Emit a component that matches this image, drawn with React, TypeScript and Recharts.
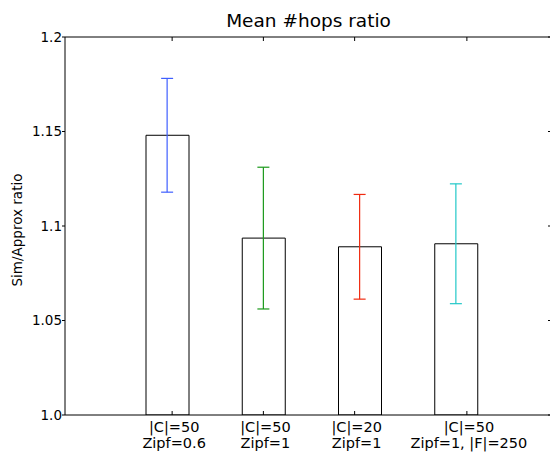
import React from "react"
import { Bar, ComposedChart, ErrorBar, Scatter, XAxis, YAxis } from "recharts"

const categories = ["c50-z0.6", "c50-z1", "c20-z1", "c50-z1-f250"]
const labelTop = ["|C|=50", "|C|=50", "|C|=20", "|C|=50"]
const labelBottom = ["Zipf=0.6", "Zipf=1", "Zipf=1", "Zipf=1, |F|=250"]
const means = [1.148, 1.0936, 1.089, 1.0906]
const errors = [0.0301, 0.0375, 0.0277, 0.0317]
const errColors = ["#3f5fff", "#1a991a", "#f02a10", "#22c8c8"]

const yTicks = [1.0, 1.05, 1.1, 1.15, 1.2]
const yTickLabels = ["1.0", "1.05", "1.1", "1.15", "1.2"]

// matplotlib put the x ticks slightly off the bar centres
const tickNudge = [5, 0, -5, 11]

const data = categories.map((name, i) => ({
  name,
  mean: means[i],
  err: errors[i],
}))

const FONT = "DejaVu Sans"
const PAD = { left: 54, right: 48 }

function BottomTick(props: any) {
  const { x, y, index } = props
  const tx = x + tickNudge[index]
  return (
    <g>
      <line x1={tx} x2={tx} y1={y} y2={y - 4} stroke="#000" />
      <text x={tx + 2} y={y + 17} textAnchor="middle" fontSize={14.5} fontFamily={FONT} fill="#000">
        {labelTop[index]}
      </text>
      <text x={tx + 2} y={y + 33} textAnchor="middle" fontSize={14.5} fontFamily={FONT} fill="#000">
        {labelBottom[index]}
      </text>
    </g>
  )
}

function TopTick(props: any) {
  const { x, y, index } = props
  const tx = x + tickNudge[index]
  return <line x1={tx} x2={tx} y1={y} y2={y + 4} stroke="#000" />
}

function RightTick(props: any) {
  const { x, y } = props
  return <line x1={x - 4} x2={x} y1={y} y2={y} stroke="#000" />
}

export default function App() {
  return (
    <div
      style={{
        position: "fixed",
        left: 0,
        top: 0,
        width: 550,
        height: 452,
        overflow: "hidden",
        background: "#fff",
        fontFamily: FONT,
      }}
    >
      <div
        style={{
          position: "absolute",
          left: 308.5,
          top: 10,
          transform: "translateX(-50%)",
          fontSize: 18.5,
          whiteSpace: "nowrap",
          color: "#000",
        }}
      >
        Mean #hops ratio
      </div>
      <div
        style={{
          position: "absolute",
          left: 17,
          top: 230,
          transform: "translate(-50%, -50%) rotate(-90deg)",
          fontSize: 13.5,
          whiteSpace: "nowrap",
          color: "#000",
        }}
      >
        Sim/Approx ratio
      </div>
      <div style={{ position: "absolute", left: 0, top: 0, width: 556, height: 452 }}>
        <ComposedChart
          width={556}
          height={452}
          data={data}
          margin={{ top: 36, right: 0, bottom: 0, left: 0 }}
        >
          <XAxis
            xAxisId="x"
            dataKey="name"
            type="category"
            allowDuplicatedCategory={false}
            height={37}
            padding={PAD}
            axisLine={{ stroke: "#000" }}
            tickLine={false}
            tickSize={0}
            tickMargin={0}
            interval={0}
            tick={<BottomTick />}
          />
          <XAxis
            xAxisId="top"
            orientation="top"
            dataKey="name"
            type="category"
            allowDuplicatedCategory={false}
            height={1}
            padding={PAD}
            axisLine={{ stroke: "#000" }}
            tickLine={false}
            tickSize={0}
            tickMargin={0}
            interval={0}
            tick={<TopTick />}
          />
          <YAxis
            yAxisId="l"
            width={65}
            domain={[1.0, 1.2]}
            ticks={yTicks}
            allowDataOverflow
            axisLine={{ stroke: "#000" }}
            tickLine={{ stroke: "#000" }}
            tickSize={3}
            tickMargin={0}
            tickFormatter={(v: number) => yTickLabels[yTicks.indexOf(v)]}
            tick={{ fontSize: 13.5, fontFamily: FONT, fill: "#000" }}
          />
          <YAxis
            yAxisId="r"
            orientation="right"
            width={4}
            domain={[1.0, 1.2]}
            ticks={yTicks}
            allowDataOverflow
            axisLine={{ stroke: "#000" }}
            tickLine={false}
            tickSize={0}
            tickMargin={0}
            tick={<RightTick />}
          />
          <Bar
            xAxisId="x"
            yAxisId="l"
            dataKey="mean"
            barSize={43}
            fill="#fff"
            stroke="#000"
            strokeWidth={1}
            isAnimationActive={false}
          />
          {categories.map((c, i) => (
            <Scatter
              key={c}
              xAxisId="x"
              yAxisId="l"
              data={[data[i]]}
              dataKey="mean"
              shape={() => null}
              isAnimationActive={false}
            >
              <ErrorBar dataKey="err" direction="y" width={6} stroke={errColors[i]} strokeWidth={1.2} />
            </Scatter>
          ))}
        </ComposedChart>
      </div>
    </div>
  )
}
